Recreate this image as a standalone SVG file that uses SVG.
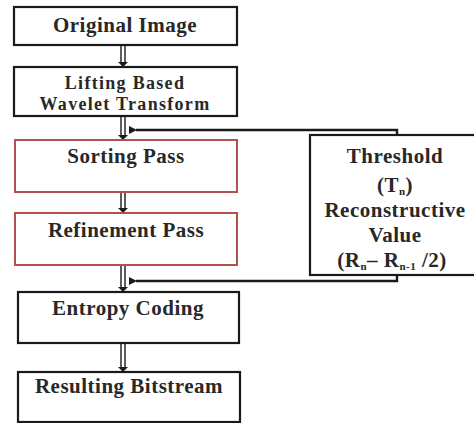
<svg xmlns="http://www.w3.org/2000/svg" width="474" height="423" viewBox="0 0 474 423">
<defs>
<style>
.box{fill:#fff;stroke:#1a1a1a;stroke-width:2.2}
.red{fill:#fff;stroke:#b4514e;stroke-width:2}
.t{font-family:'Liberation Serif','Times New Roman','DejaVu Serif',serif;font-weight:700;font-size:21px;letter-spacing:0.5px;fill:#282828;text-anchor:middle}
.s{font-size:18px;letter-spacing:1.3px}
.dl{stroke:#1a1a1a;stroke-width:1.4;fill:none}
.fb{stroke:#1a1a1a;stroke-width:2.4;fill:none}
.ah{fill:#1a1a1a}
</style>
<marker id="lh" markerWidth="8" markerHeight="8" refX="1" refY="4" orient="auto" markerUnits="userSpaceOnUse">
<path d="M8,0 L0,4 L8,8 z" class="ah"/>
</marker>
</defs>
<rect width="474" height="423" fill="#fff"/>
<g id="connectors">
<g id="a1"><path class="dl" d="M121,45 V63 M125,45 V63"/><path class="ah" d="M118,62 L128,62 L123,67 z"/></g>
<g id="a2"><path class="dl" d="M121,116 V136 M125,116 V136"/><path class="ah" d="M118,135 L128,135 L123,140 z"/></g>
<g id="a3"><path class="dl" d="M121,192 V209 M125,192 V209"/><path class="ah" d="M118,208 L128,208 L123,213 z"/></g>
<g id="a4"><path class="dl" d="M121,265 V288 M125,265 V288"/><path class="ah" d="M118,287 L128,287 L123,292 z"/></g>
<g id="a5"><path class="dl" d="M121,343 V368 M125,343 V368"/><path class="ah" d="M118,367 L128,367 L123,372 z"/></g>
<path class="fb" d="M397,135 V130 H136" marker-end="url(#lh)"/>
<path class="fb" d="M397,275 V281 H136" marker-end="url(#lh)"/>
</g>
<g id="original">
<rect class="box" x="14" y="7" width="223" height="38"/>
<text class="t" x="125" y="32">Original Image</text>
</g>
<g id="lifting">
<rect class="box" x="14" y="67" width="223" height="49"/>
<text class="t s" x="125" y="89">Lifting Based</text>
<text class="t s" x="125" y="110">Wavelet Transform</text>
</g>
<g id="sorting">
<rect class="red" x="15" y="140" width="222" height="52"/>
<text class="t" x="126" y="163">Sorting Pass</text>
</g>
<g id="refinement">
<rect class="red" x="15" y="213" width="222" height="52"/>
<text class="t" x="126" y="237">Refinement Pass</text>
</g>
<g id="entropy">
<rect class="box" x="18" y="292" width="221" height="51"/>
<text class="t" x="128" y="315">Entropy Coding</text>
</g>
<g id="resulting">
<rect class="box" x="18" y="372" width="222" height="50"/>
<text class="t" x="129" y="393">Resulting Bitstream</text>
</g>
<g id="threshold">
<rect class="box" x="310" y="135" width="172" height="140"/>
<text class="t" x="395" y="163">Threshold</text>
<text class="t" x="395" y="192">(T<tspan font-size="11" dy="3">n</tspan><tspan dy="-3">)</tspan></text>
<text class="t" x="395" y="217">Reconstructive</text>
<text class="t" x="395" y="242">Value</text>
<text class="t" x="392" y="267">(R<tspan font-size="11" dy="3">n</tspan><tspan dy="-3">– R</tspan><tspan font-size="11" dy="3">n-1</tspan><tspan dy="-3"> /2)</tspan></text>
</g>
</svg>
